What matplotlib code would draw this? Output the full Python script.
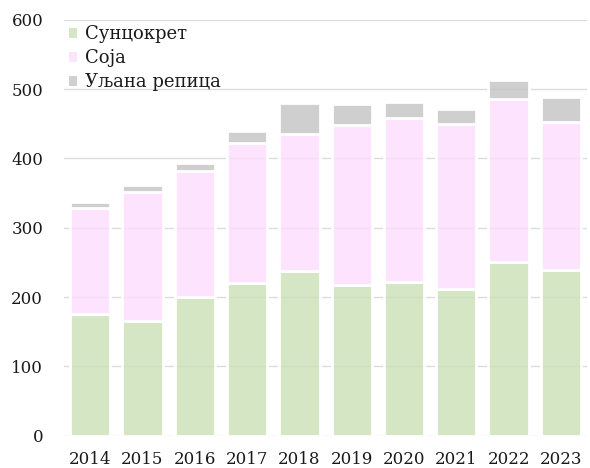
import matplotlib
matplotlib.use("Agg")
import matplotlib.pyplot as plt
from matplotlib.patches import Patch
import numpy as np

years = ["2014", "2015", "2016", "2017", "2018", "2019", "2020", "2021", "2022", "2023"]
sunflower = [175, 166, 200, 220, 238, 218, 221, 212, 250, 239]
soy = [154, 185, 182, 202, 197, 230, 237, 238, 236, 213]
rapeseed = [8, 10, 11, 17, 45, 30, 23, 21, 27, 37]
series_names = ["Сунцокрет", "Соја", "Уљана репица"]
y_ticks = [0, 100, 200, 300, 400, 500, 600]

ALPHA = 0.8
def under(target):
    return tuple(((t - 255 * (1 - ALPHA)) / ALPHA) / 255 for t in target) + (ALPHA,)

targets = [(213, 230, 197), (253, 228, 253), (208, 208, 208)]
colors = [under(t) for t in targets]

plt.rcParams["font.family"] = ["DejaVu Serif"]

fig = plt.figure(figsize=(5.9, 4.68), dpi=100)
ax = fig.add_axes([0.1085, 0.0692, 0.995 - 0.1085, 0.9577 - 0.0692])

x = np.arange(len(years))
bottom = np.zeros(len(years))
for vals, c in zip([sunflower, soy, rapeseed], colors):
    ax.bar(x, vals, width=0.77, bottom=bottom, color=c, edgecolor="white", linewidth=2.0, zorder=2)
    bottom += np.array(vals)

ax.set_xlim(-0.5, len(years) - 0.5)
ax.set_ylim(0, 600)
ax.set_yticks(y_ticks)
ax.set_xticks(x)
ax.set_xticklabels(years)
ax.yaxis.grid(True, color="#dcdcdc", linewidth=1.0, zorder=0)
ax.set_axisbelow(True)
for s in ax.spines.values():
    s.set_visible(False)
ax.tick_params(axis="both", length=0, labelsize=12, colors="#1a1a1a")
ax.tick_params(axis="y", pad=15)
ax.tick_params(axis="x", pad=11)

handles = [Patch(facecolor=t_c, edgecolor="none") for t_c in [tuple(v / 255 for v in t) for t in targets]]
fig.legend(handles, series_names, loc="upper left", bbox_to_anchor=(0.095, 0.973),
           frameon=False, fontsize=13, handlelength=0.48, handleheight=0.48,
           handletextpad=0.4, labelspacing=0.33, borderpad=0.2, labelcolor="#1a1a1a")

fig.savefig("out.png", dpi=100)
